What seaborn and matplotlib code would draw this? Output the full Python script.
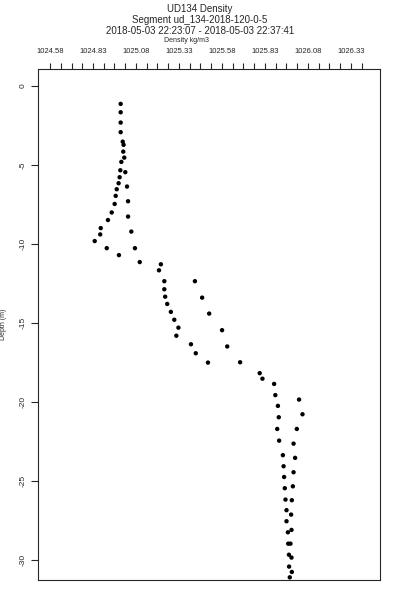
import numpy as np
import pandas as pd
import matplotlib
matplotlib.use('Agg')
import matplotlib.pyplot as plt
import seaborn as sns

# density (kg/m3) and depth (m)
density = [1024.991, 1024.991, 1024.991, 1024.991, 1025.003, 1025.008, 1025.006, 1025.012,
           1024.995, 1024.989, 1025.018, 1024.985, 1024.979, 1025.028, 1024.968, 1024.962,
           1025.034, 1024.956, 1024.939, 1025.034, 1024.917, 1024.875, 1025.053, 1024.872,
           1024.840, 1024.910, 1025.074, 1024.981, 1025.102, 1025.225, 1025.214, 1025.245,
           1025.423, 1025.245, 1025.250, 1025.465, 1025.262, 1025.283, 1025.506, 1025.303,
           1025.327, 1025.581, 1025.315, 1025.400, 1025.611, 1025.428, 1025.499, 1025.686,
           1025.800, 1025.816, 1025.884, 1025.891, 1026.029, 1025.906, 1026.049, 1025.911,
           1026.016, 1025.902, 1025.913, 1025.997, 1025.935, 1026.006, 1025.939, 1025.997,
           1025.942, 1025.993, 1025.946, 1025.950, 1025.987, 1025.956, 1025.983, 1025.956,
           1025.985, 1025.964, 1025.966, 1025.979, 1025.970, 1025.985, 1025.971, 1025.987,
           1025.975]
depth = [-1.14, -1.67, -2.32, -2.93, -3.53, -3.73, -4.16, -4.54,
         -4.81, -5.34, -5.46, -5.78, -6.16, -6.37, -6.54, -6.96,
         -7.30, -7.47, -8.01, -8.27, -8.49, -9.00, -9.22, -9.40,
         -9.82, -10.27, -10.27, -10.71, -11.15, -11.29, -11.67, -12.36,
         -12.36, -12.87, -13.34, -13.40, -13.80, -14.30, -14.41, -14.80,
         -15.30, -15.46, -15.81, -16.35, -16.49, -16.92, -17.51, -17.49,
         -18.18, -18.53, -18.86, -19.57, -19.85, -20.25, -20.78, -20.97,
         -21.71, -21.71, -22.45, -22.64, -23.37, -23.54, -24.07, -24.45,
         -24.75, -25.34, -25.46, -26.18, -26.22, -26.85, -27.13, -27.55,
         -28.10, -28.25, -28.97, -28.97, -29.67, -29.85, -30.42, -30.76,
         -31.10]

x_ticks = [1024.58, 1024.83, 1025.08, 1025.33, 1025.58, 1025.83, 1026.08, 1026.33]
x_labels = ['1024.58', '1024.83', '1025.08', '1025.33', '1025.58', '1025.83', '1026.08', '1026.33']
y_ticks = [0, -5, -10, -15, -20, -25, -30]

df = pd.DataFrame({'density': density, 'depth': depth})

sns.set_style('ticks')
plt.rcParams['font.family'] = ['Liberation Sans', 'DejaVu Sans']

fig = plt.figure(figsize=(4, 6), dpi=100)
ax = fig.add_axes([0.095, 0.0333, 0.855, 0.852])

sns.scatterplot(data=df, x='density', y='depth', ax=ax, color='black',
                s=10, edgecolor='none', legend=False)

ax.set_xlim(1024.51, 1026.50)
ax.set_ylim(-31.27, 1.08)

# x axis lives on top
ax.xaxis.tick_top()
ax.set_xticks(x_ticks)
ax.set_xticklabels(x_labels)
ax.set_xticks(np.arange(1024.58, 1026.40, 0.0625), minor=True)
ax.tick_params(axis='x', which='both', length=4, width=0.8, labelsize=5.5, pad=6, direction='out')
ax.set_xlabel('')

ax.set_yticks(y_ticks)
ax.set_yticklabels([str(v) for v in y_ticks], rotation=90, va='center')
ax.tick_params(axis='y', length=5, width=0.8, labelsize=6, pad=3, direction='out')
ax.set_ylabel('Depth (m)', fontsize=5)
ax.yaxis.set_label_coords(-0.092, 0.5)

for sp in ax.spines.values():
    sp.set_linewidth(0.8)
    sp.set_visible(True)

fig.text(0.5, 1 - 9 / 600, 'UD134 Density', ha='center', va='center', fontsize=7)
fig.text(0.5, 1 - 20 / 600, 'Segment ud_134-2018-120-0-5', ha='center', va='center', fontsize=7)
fig.text(0.5, 1 - 31 / 600, '2018-05-03 22:23:07 - 2018-05-03 22:37:41', ha='center', va='center', fontsize=7)
fig.text(186 / 400, 1 - 40 / 600, 'Density kg/m3', ha='center', va='center', fontsize=5)

fig.savefig('out.png', dpi=100)
